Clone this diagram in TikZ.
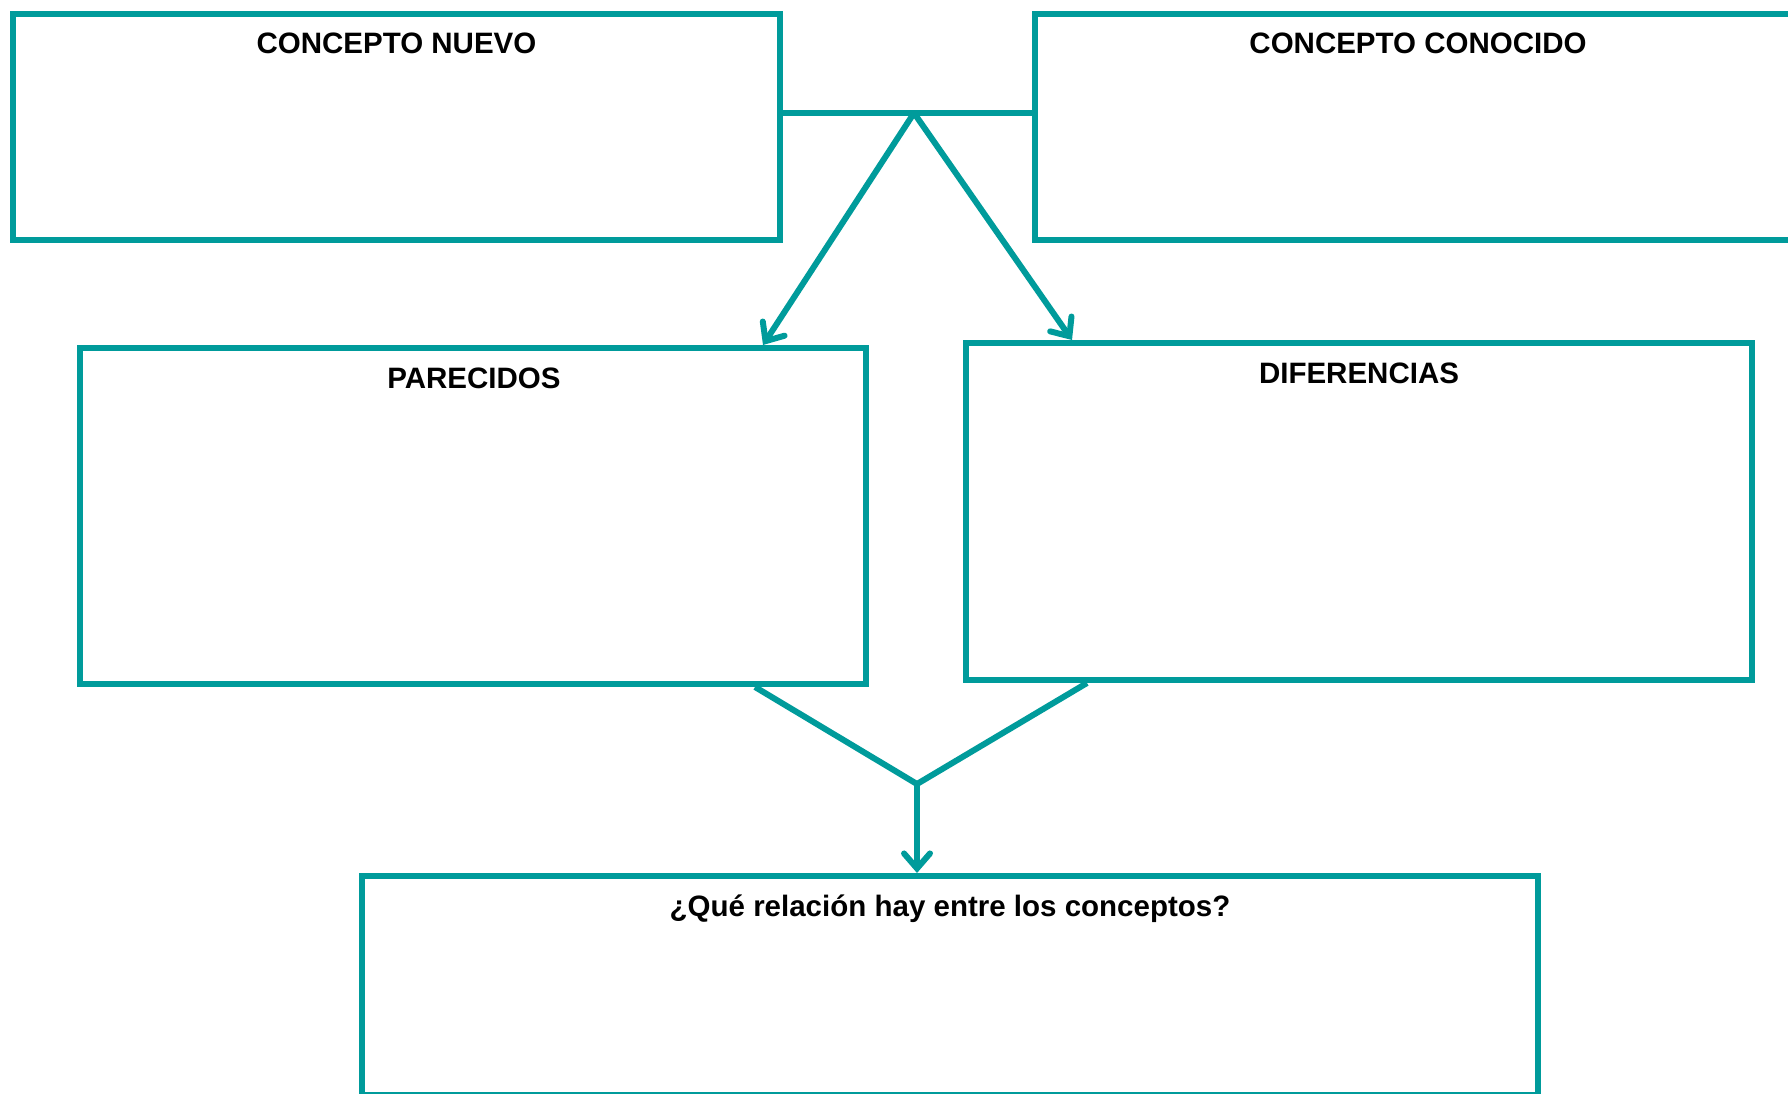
\documentclass[tikz,border=0pt]{standalone}
\usepackage{fontspec}
\setmainfont{Liberation Sans}
\usetikzlibrary{arrows.meta}
\definecolor{frameteal}{RGB}{0,155,155}

\begin{document}
\begin{tikzpicture}[x=1pt,y=-1pt,
  box/.style={draw=frameteal, line width=6pt, inner sep=0pt},
  title/.style={font=\fontsize{29.5}{34}\selectfont\bfseries, anchor=base, inner sep=0pt},
  link/.style={draw=frameteal, line width=6pt, line join=round},
  tip/.style={-{Straight Barb[length=15pt,width=26pt,line cap=round]}}]

\useasboundingbox (0,0) rectangle (1788,1094);

% frames
\node[box, minimum width=767pt, minimum height=226pt] (nuevo)     at (396.5,127) {};
\node[box, minimum width=770pt, minimum height=226pt] (conocido)  at (1420,127) {};
\node[box, minimum width=786pt, minimum height=336pt] (parecidos) at (473,516) {};
\node[box, minimum width=786pt, minimum height=337pt] (diferencias) at (1359,511.5) {};
\node[box, minimum width=1176pt, minimum height=218.5pt] (relacion) at (950,985.25) {};

% headings
\node[title] (tnuevo)    at (396.5,53.5) {CONCEPTO NUEVO};
\node[title] (tconocido) at (1418,53.5) {CONCEPTO CONOCIDO};
\node[title] (tparec)    at (474,388) {PARECIDOS};
\node[title] (tdifer)    at (1359,383) {DIFERENCIAS};
\node[title] (trel)      at (950,916.5) {¿Qué relación hay entre los conceptos?};

% connector reference points
\coordinate (hub)  at (914,113);
\coordinate (join) at (917,784);
\coordinate (xpa) at (763,0);
\coordinate (xdi) at (1072,0);
\coordinate (xpb) at (755,0);
\coordinate (xdb) at (1087,0);

% top bar between the two concepts
\draw[link] (nuevo.east |- hub) -- (conocido.west |- hub);
% split towards similarities and differences
\draw[link, tip] (hub) -- (xpa |- parecidos.north);
\draw[link, tip] (hub) -- (xdi |- diferencias.north);
% merge towards the relation box
\draw[link] (xpb |- parecidos.south) -- (join) -- (xdb |- diferencias.south);
\draw[link, tip] (join) -- (join |- relacion.north);
\end{tikzpicture}
\end{document}
